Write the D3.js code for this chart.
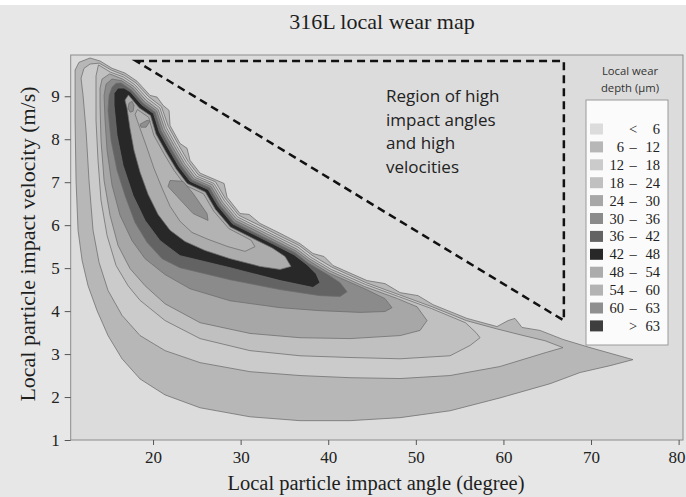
<!DOCTYPE html>
<html>
<head>
<meta charset="utf-8">
<script src="https://cdn.jsdelivr.net/npm/d3@7"></script>
<style>
  html, body { margin: 0; padding: 0; background: #e7e7e7; }
  svg { display: block; }
</style>
</head>
<body>
<svg id="chart" width="686" height="497"></svg>
<script>
// Axis ticks
const angleTicks = [20, 30, 40, 50, 60, 70, 80];
const velocityTicks = [1, 2, 3, 4, 5, 6, 7, 8, 9];

// Legend bands: wear depth ranges (µm) and their grey fills
const bandLow  = [null, 6, 12, 18, 24, 30, 36, 42, 48, 54, 60, 63];
const bandHigh = [6, 12, 18, 24, 30, 36, 42, 48, 54, 60, 63, null];
const bandGray = ["#dcdcdc", "#b7b7b7", "#cbcbcb", "#c0c0c0", "#a7a7a7", "#8b8b8b",
                  "#636363", "#282828", "#acacac", "#b3b3b3", "#8f8f8f", "#3e3e3e"];

// Iso-wear contours: [impact angle (deg), impact velocity (m/s)] outlining wear >= level
const wear6 = [[11.10,9.61],[11.55,9.79],[12.81,9.89],[13.95,9.82],[15.32,9.65],[16.80,9.54],[18.17,9.35],[19.66,9.02],[20.46,8.98],[21.14,8.79],[21.83,8.67],[21.94,8.32],[23.08,7.90],[23.88,7.79],[24.22,7.51],[25.37,7.21],[27.31,7.04],[28.11,6.97],[28.45,6.65],[29.93,6.27],[30.96,6.25],[32.21,6.04],[34.50,5.81],[36.78,5.57],[38.26,5.34],[39.52,5.27],[40.55,5.06],[44.43,4.71],[46.48,4.64],[48.20,4.43],[50.25,4.36],[51.96,4.15],[55.84,3.83],[59.27,3.64],[60.53,3.78],[61.32,3.83],[62.12,3.62],[64.18,3.55],[66.80,3.34],[69.89,3.15],[74.79,2.87],[72.17,2.73],[68.74,2.57],[65.32,2.31],[59.61,1.98],[53.90,1.68],[48.20,1.52],[42.49,1.45],[36.78,1.45],[31.07,1.54],[25.37,1.75],[21.37,2.05],[18.52,2.42],[16.46,2.89],[14.86,3.43],[13.61,4.01],[12.58,4.59],[11.90,5.18],[11.44,5.88],[11.21,7.04],[11.10,8.44]];

const wear12 = [[11.78,9.42],[12.12,9.65],[12.81,9.75],[13.86,9.77],[15.23,9.61],[16.71,9.49],[18.05,9.31],[19.50,8.99],[20.96,8.76],[21.74,8.30],[22.88,7.88],[24.02,7.48],[25.18,7.17],[27.13,7.01],[28.28,6.61],[29.79,6.23],[32.10,6.00],[34.38,5.76],[36.67,5.53],[38.15,5.30],[40.45,5.02],[44.34,4.66],[48.11,4.38],[51.87,4.10],[55.75,3.78],[59.18,3.59],[61.89,3.45],[64.75,3.31],[66.80,3.15],[64.75,3.03],[59.61,2.71],[53.90,2.50],[48.20,2.43],[42.49,2.45],[36.78,2.50],[31.07,2.59],[25.37,2.80],[21.37,3.08],[18.52,3.43],[16.46,3.90],[14.86,4.48],[13.84,5.13],[13.15,5.88],[12.69,7.04],[12.35,8.21],[12.01,9.02]];

const wear18 = [[13.49,9.47],[13.77,9.73],[15.14,9.56],[16.62,9.45],[17.92,9.27],[19.34,8.95],[20.78,8.73],[21.53,8.27],[22.67,7.85],[23.81,7.46],[24.99,7.14],[26.96,6.97],[28.11,6.58],[29.65,6.19],[31.99,5.95],[34.27,5.72],[36.55,5.49],[38.04,5.25],[40.34,4.97],[44.25,4.62],[48.01,4.34],[51.78,4.06],[55.66,3.73],[56.87,3.50],[57.33,3.38],[56.19,3.20],[53.90,2.96],[48.20,2.89],[42.49,2.92],[36.78,2.96],[31.07,3.08],[25.37,3.36],[21.37,3.78],[18.52,4.25],[17.15,4.59],[15.78,5.06],[14.75,5.76],[14.06,6.58],[13.72,7.51],[13.49,8.44],[13.49,9.14]];

const wear24 = [[13.95,9.19],[14.18,9.40],[15.05,9.52],[16.53,9.40],[17.80,9.23],[19.18,8.91],[20.59,8.69],[21.32,8.25],[22.47,7.83],[23.61,7.43],[24.81,7.11],[26.79,6.94],[27.93,6.54],[29.51,6.15],[31.87,5.91],[34.16,5.68],[36.44,5.44],[37.92,5.21],[40.24,4.93],[44.16,4.57],[47.92,4.29],[50.14,4.10],[51.28,3.78],[50.48,3.55],[48.20,3.43],[42.49,3.36],[36.78,3.38],[31.07,3.48],[25.37,3.73],[21.37,4.17],[19.09,4.59],[17.37,4.99],[16.00,5.53],[15.09,6.23],[14.41,7.04],[14.06,7.97],[13.95,8.79]];

const wear30 = [[14.41,9.02],[14.63,9.28],[15.32,9.40],[16.44,9.36],[17.67,9.19],[19.02,8.87],[20.41,8.66],[21.12,8.22],[22.26,7.80],[23.40,7.41],[24.61,7.08],[26.62,6.90],[27.76,6.51],[29.36,6.11],[31.76,5.87],[34.04,5.63],[36.32,5.40],[37.81,5.17],[40.14,4.88],[44.06,4.53],[46.48,4.29],[47.28,4.08],[46.48,3.99],[43.63,3.97],[39.06,4.01],[34.50,4.08],[28.79,4.24],[24.22,4.52],[21.37,4.85],[19.09,5.22],[17.60,5.64],[16.23,6.23],[15.32,6.93],[14.75,7.74],[14.52,8.44]];

const wear36 = [[14.98,9.02],[15.32,9.21],[15.78,9.30],[16.35,9.31],[17.55,9.14],[18.86,8.84],[20.23,8.63],[20.91,8.20],[22.05,7.78],[23.20,7.38],[24.43,7.05],[26.45,6.87],[27.59,6.47],[29.22,6.07],[31.64,5.82],[33.93,5.59],[36.21,5.36],[37.69,5.12],[40.03,4.84],[41.35,4.66],[42.15,4.45],[41.35,4.34],[39.06,4.36],[34.50,4.50],[28.79,4.73],[23.08,5.01],[21.03,5.22],[19.32,5.60],[17.95,6.06],[16.80,6.69],[15.89,7.28],[15.21,7.97],[14.86,8.67]];

const wear42 = [[15.55,9.07],[16.00,9.19],[16.69,9.19],[17.42,9.10],[18.70,8.80],[20.05,8.60],[20.71,8.17],[21.85,7.75],[22.99,7.35],[24.24,7.02],[26.28,6.83],[27.42,6.44],[29.08,6.03],[31.53,5.78],[33.81,5.55],[36.10,5.31],[37.58,5.08],[38.61,4.87],[39.06,4.66],[38.26,4.55],[34.50,4.71],[28.79,5.01],[23.08,5.29],[20.80,5.64],[19.09,6.11],[17.72,6.69],[16.58,7.39],[15.89,8.09],[15.55,8.79]];

const wear48 = [[16.80,8.91],[17.19,9.03],[18.41,8.73],[19.71,8.55],[20.34,8.12],[21.48,7.70],[22.63,7.31],[23.89,6.97],[25.97,6.77],[27.11,6.37],[28.82,5.96],[31.32,5.70],[33.61,5.47],[35.07,5.27],[35.75,5.04],[34.50,4.97],[32.21,5.04],[28.79,5.22],[25.94,5.41],[23.65,5.62],[21.94,5.88],[20.57,6.25],[19.43,6.72],[18.52,7.23],[17.83,7.74],[17.37,8.25],[17.03,8.72]];

const wear54 = [[18.22,8.69],[19.50,8.51],[20.09,8.09],[21.23,7.67],[22.37,7.28],[23.66,6.93],[25.76,6.73],[26.91,6.33],[28.65,5.92],[31.19,5.65],[31.64,5.50],[30.50,5.39],[28.56,5.50],[26.28,5.67],[24.45,5.83],[23.08,6.09],[21.94,6.44],[21.03,6.86],[20.11,7.32],[19.32,7.79],[18.52,8.25],[17.95,8.58]];

const wear60a = [[17.26,8.84],[17.60,8.88],[17.83,8.79],[17.72,8.65],[17.37,8.63],[17.15,8.72]];
const wear60b = [[18.52,8.35],[19.32,8.44],[19.66,8.42],[19.20,8.28],[18.63,8.28]];
const wear60c = [[21.94,7.04],[23.42,7.02],[24.57,6.74],[26.16,6.27],[26.28,6.11],[24.57,6.27],[22.74,6.67],[21.71,6.90]];

const wearLevels = [6, 12, 18, 24, 30, 36, 42, 48, 54, 60];
const wearRings = [[wear6], [wear12], [wear18], [wear24], [wear30], [wear36],
                   [wear42], [wear48], [wear54], [wear60a, wear60b, wear60c]];

// Annotated region (dashed triangle) and its note
const regionCorners = [[18.06, 9.82], [66.9, 9.82], [66.9, 3.78]];
const regionNote = ["Region of high", "impact angles", "and high", "velocities"];

// ---------------------------------------------------------------
const svg = d3.select("#chart");
const W = 686, H = 497;
const plot = { left: 70.7, right: 683, top: 55, bottom: 440 };
const serif = "'Liberation Serif', 'Times New Roman', serif";
const sans = "'Open Sans', 'Noto Sans', sans-serif";

const x = d3.scaleLinear().domain([10.6, 80.5]).range([plot.left, plot.right]);
const y = d3.scaleLinear().domain([1, 9.96]).range([plot.bottom, plot.top]);

svg.append("rect").attr("width", W).attr("height", H).attr("fill", "#e7e7e7");
svg.append("rect").attr("width", W).attr("height", 5).attr("fill", "#ffffff");

svg.append("defs").append("clipPath").attr("id", "plotClip")
  .append("rect")
  .attr("x", plot.left).attr("y", plot.top)
  .attr("width", plot.right - plot.left).attr("height", plot.bottom - plot.top);

svg.append("rect")
  .attr("x", plot.left).attr("y", plot.top)
  .attr("width", plot.right - plot.left).attr("height", plot.bottom - plot.top)
  .attr("fill", bandGray[0]);

// Filled contour bands, lowest level first
const ring = d3.line().x(d => x(d[0])).y(d => y(d[1])).curve(d3.curveLinearClosed);
const bands = svg.append("g").attr("clip-path", "url(#plotClip)");
wearLevels.forEach((lvl, i) => {
  bands.selectAll(null)
    .data(wearRings[i])
    .join("path")
    .attr("d", ring)
    .attr("fill", bandGray[i + 1])
    .attr("stroke", "#6c6c6c")
    .attr("stroke-width", 0.75)
    .attr("stroke-linejoin", "round");
});

// Frame
svg.append("rect")
  .attr("x", plot.left).attr("y", plot.top)
  .attr("width", plot.right - plot.left).attr("height", plot.bottom - plot.top)
  .attr("fill", "none").attr("stroke", "#8c8c8c").attr("stroke-width", 1);

// Axes
const gx = svg.append("g").attr("transform", `translate(0,${plot.bottom})`)
  .call(d3.axisBottom(x).tickValues(angleTicks).tickSize(5).tickPadding(6).tickFormat(d3.format("d")));
const gy = svg.append("g").attr("transform", `translate(${plot.left},0)`)
  .call(d3.axisLeft(y).tickValues(velocityTicks).tickSize(6).tickPadding(5).tickFormat(d3.format("d")));
[gx, gy].forEach(g => {
  g.select(".domain").remove();
  g.selectAll(".tick line").attr("stroke", "#555");
  g.selectAll(".tick text").attr("fill", "#222").style("font-family", serif).style("font-size", "17px");
});
// last angle label sits against the right edge of the figure
gx.selectAll(".tick").filter(d => d === 80).select("text")
  .attr("text-anchor", "end").attr("x", W - 1 - x(80));

// Titles
svg.append("text").attr("x", 382).attr("y", 29).attr("text-anchor", "middle")
  .style("font-family", serif).style("font-size", "22px").attr("fill", "#1e1e1e")
  .text("316L local wear map");
svg.append("text").attr("x", 376).attr("y", 490).attr("text-anchor", "middle")
  .style("font-family", serif).style("font-size", "20.5px").attr("fill", "#1e1e1e")
  .text("Local particle impact angle (degree)");
svg.append("text").attr("transform", "translate(35,244) rotate(-90)").attr("text-anchor", "middle")
  .style("font-family", serif).style("font-size", "22px").attr("fill", "#1e1e1e")
  .text("Local particle impact velocity (m/s)");

// Dashed region of high angles and velocities
svg.append("path")
  .attr("d", d3.line().x(d => x(d[0])).y(d => y(d[1])).curve(d3.curveLinearClosed)(regionCorners))
  .attr("fill", "none").attr("stroke", "#111").attr("stroke-width", 2.5)
  .attr("stroke-dasharray", "8,5");

svg.append("g").selectAll("text").data(regionNote).join("text")
  .attr("x", 386).attr("y", (d, i) => 102 + i * 23.6)
  .style("font-family", sans).style("font-size", "17px").attr("fill", "#222")
  .text(d => d);

// Legend
const lg = svg.append("g");
lg.append("text").attr("x", 630).attr("y", 75).attr("text-anchor", "middle")
  .style("font-family", sans).style("font-size", "11.3px").attr("fill", "#333").text("Local wear");
lg.append("text").attr("x", 630).attr("y", 92).attr("text-anchor", "middle")
  .style("font-family", sans).style("font-size", "11.3px").attr("fill", "#333").text("depth (μm)");
lg.append("rect").attr("x", 586).attr("y", 100).attr("width", 82).attr("height", 245)
  .attr("fill", "#fbfbfb").attr("stroke", "#9a9a9a").attr("stroke-width", 1);

const rows = lg.selectAll("g.row").data(bandGray).join("g").attr("class", "row")
  .attr("transform", (d, i) => `translate(0,${129 + i * 17.9})`);
rows.append("rect").attr("x", 590).attr("y", -5.5).attr("width", 13).attr("height", 11)
  .attr("fill", d => d);
const legendText = (sel, xPos, anchor, fn) => sel.append("text")
  .attr("x", xPos).attr("y", 5).attr("text-anchor", anchor)
  .style("font-family", serif).style("font-size", "14.5px").attr("fill", "#222").text(fn);
const isFirst = i => bandLow[i] === null;
const isLast = i => bandHigh[i] === null;
legendText(rows, 624, "end", (d, i) => (isFirst(i) || isLast(i)) ? "" : bandLow[i]);
legendText(rows, 633, "middle", (d, i) => isFirst(i) ? "<" : (isLast(i) ? ">" : "–"));
legendText(rows, 660, "end", (d, i) => isLast(i) ? bandLow[i] : bandHigh[i]);
</script>
</body>
</html>
